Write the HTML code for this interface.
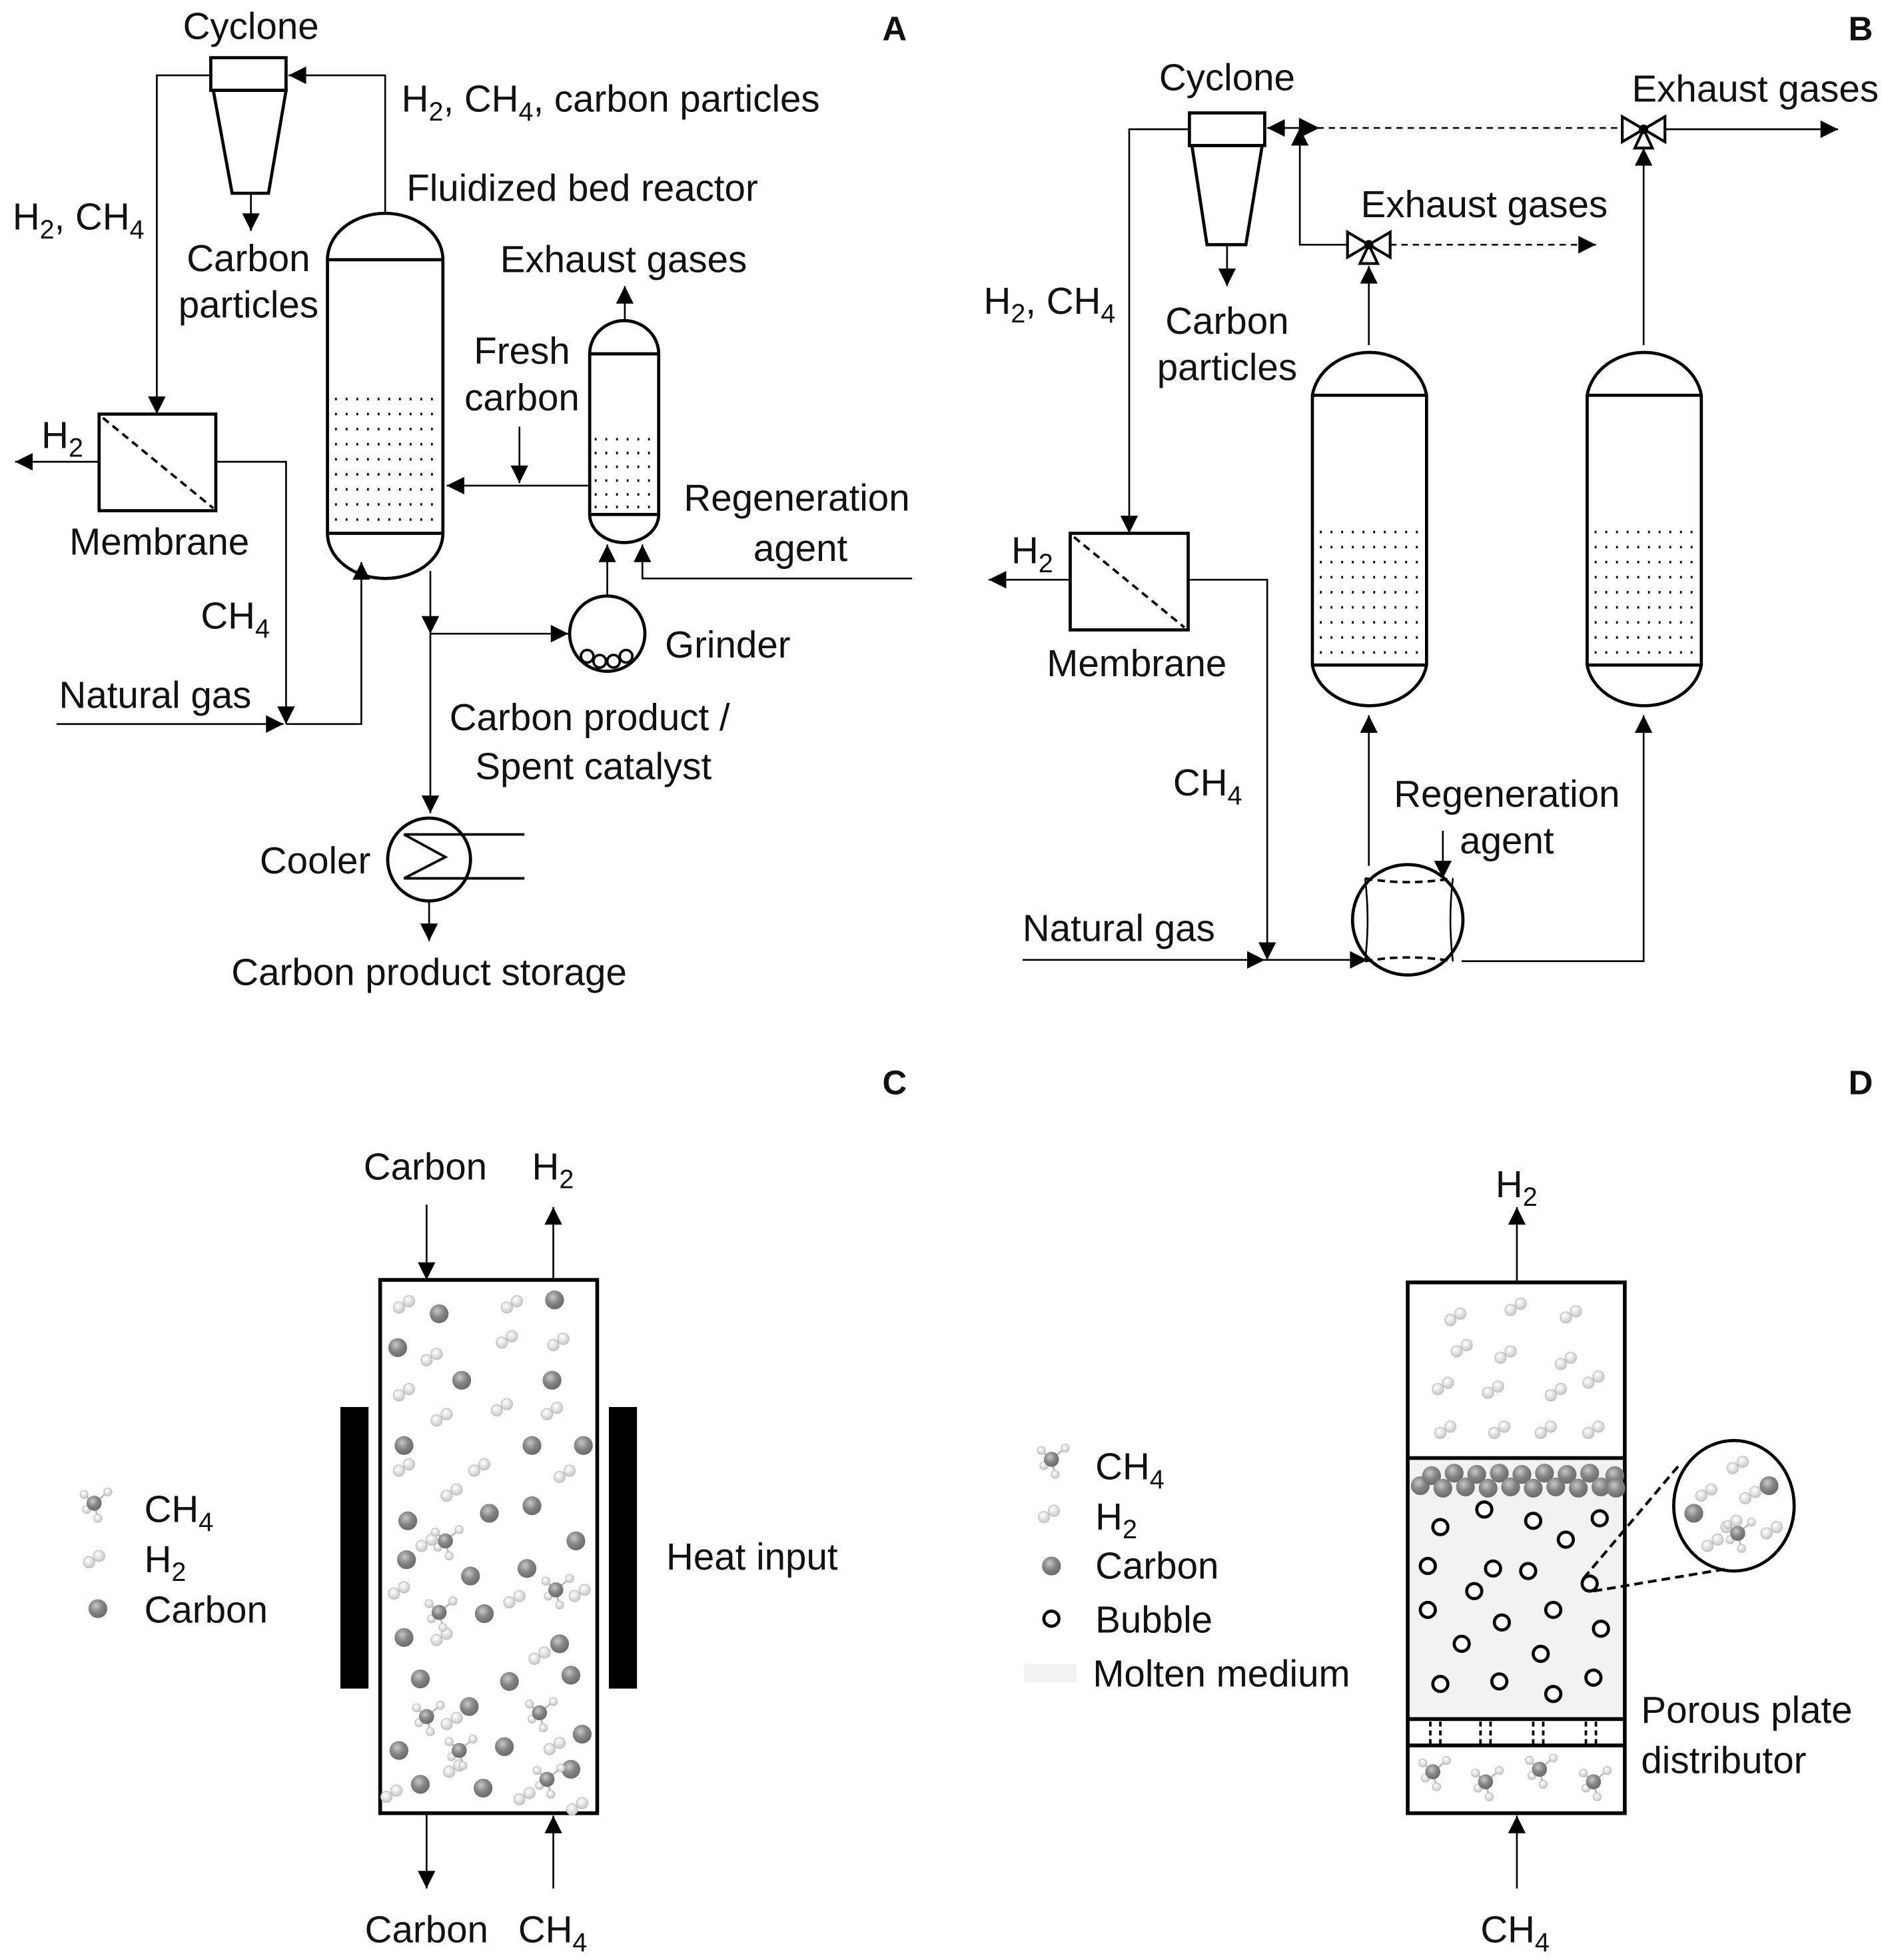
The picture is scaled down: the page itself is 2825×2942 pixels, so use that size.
<!DOCTYPE html>
<html><head><meta charset="utf-8"><style>
html,body{margin:0;padding:0;background:#fff}
svg{display:block}
text{font-family:"Liberation Sans",Arial,sans-serif;font-size:30px;fill:#111}
.b{font-weight:bold;font-size:27px}
</style></head><body>
<svg width="2825" height="2942" viewBox="0 0 1500 1562" preserveAspectRatio="none" xmlns="http://www.w3.org/2000/svg">
<defs>
<marker id="a" viewBox="0 0 10 10" refX="10" refY="5" markerWidth="16" markerHeight="14" markerUnits="userSpaceOnUse" orient="auto"><path d="M0,0L10,5L0,10z" fill="#000"/></marker>
<radialGradient id="cg" cx="0.4" cy="0.35" r="0.7"><stop offset="0" stop-color="#c8c8c8"/><stop offset="0.5" stop-color="#858585"/><stop offset="1" stop-color="#666"/></radialGradient>
<radialGradient id="hg" cx="0.4" cy="0.35" r="0.7"><stop offset="0" stop-color="#fff"/><stop offset="1" stop-color="#c4c4c4"/></radialGradient>
<symbol id="C" overflow="visible"><circle cx="0" cy="0" r="7.5" fill="url(#cg)"/></symbol>
<symbol id="H" overflow="visible"><circle cx="-4" cy="2" r="4.5" fill="url(#hg)" stroke="#bbb" stroke-width="0.6"/><circle cx="4" cy="-3" r="4.5" fill="url(#hg)" stroke="#bbb" stroke-width="0.6"/></symbol>
<symbol id="M" overflow="visible"><path d="M0,0L-8,-7M0,0L11,-9M0,0L-6,5M0,0L3,12" stroke="#bbb" stroke-width="1.5"/><circle cx="-8" cy="-7" r="3.2" fill="url(#hg)" stroke="#bbb" stroke-width="0.6"/><circle cx="11" cy="-9" r="3.2" fill="url(#hg)" stroke="#bbb" stroke-width="0.6"/><circle cx="-6" cy="5" r="3.2" fill="url(#hg)" stroke="#bbb" stroke-width="0.6"/><circle cx="3" cy="12" r="3.2" fill="url(#hg)" stroke="#bbb" stroke-width="0.6"/><circle cx="0" cy="0" r="6" fill="url(#cg)"/></symbol>
</defs>
<g fill="none" stroke="#000" stroke-width="1.4">
<!-- Panel A -->
<text x="713" y="32" class="b" stroke="none" text-anchor="middle">A</text>
<rect x="168" y="46" width="60" height="26" stroke-width="2.5"/>
<path d="M170,72 L228,72 L214,154 L185,154 Z" stroke-width="2.5"/>
<path d="M200,154 V184" marker-end="url(#a)"/>
<path d="M307,170 V60 H230" marker-end="url(#a)"/>
<path d="M168,60 H125 V330" marker-end="url(#a)"/>
<rect x="79" y="330" width="93" height="77" stroke-width="2.5"/>
<path d="M82,333 L170,405" stroke-dasharray="6,4" stroke-width="2"/>
<path d="M79,368 H12" marker-end="url(#a)"/>
<path d="M172,368 H228 V577" marker-end="url(#a)"/>
<path d="M45,577 H226" marker-end="url(#a)"/>
<path d="M228,577 H288 V448" marker-end="url(#a)"/>
<path d="M261,207 V425 A46,36 0 0 0 353,425 V207 A46,37 0 0 0 261,207 Z M261,207 H353 M261,425 H353" stroke-width="2.5"/>
<path d="M267,318 H350 M267,330 H350 M267,342 H350 M267,354 H350 M267,366 H350 M267,378 H350 M267,390 H350 M267,402 H350 M267,414 H350" stroke-dasharray="1.5,7" stroke-width="2"/>
<path d="M343,455 V505" marker-end="url(#a)"/>
<path d="M343,505 H453" marker-end="url(#a)"/>
<path d="M343,505 V648" marker-end="url(#a)"/>
<circle cx="342" cy="685" r="33" stroke-width="2.5"/>
<path d="M360,665 H418 M360,700 H418 M368,665 L322,665 L355,683 L322,700 L368,700" stroke-width="2"/>
<path d="M342,718 V750" marker-end="url(#a)"/>
<circle cx="484" cy="505" r="30" stroke-width="2.5"/>
<g stroke-width="2"><circle cx="468" cy="523" r="5"/><circle cx="478" cy="527" r="5"/><circle cx="489" cy="527" r="5"/><circle cx="499" cy="523" r="5"/></g>
<path d="M484,475 V434" marker-end="url(#a)"/>
<path d="M470,282 V410 A27,22 0 0 0 525,410 V282 A27,26 0 0 0 470,282 Z M470,282 H525 M470,410 H525" stroke-width="2.5"/>
<path d="M474,350 H522 M474,361 H522 M474,372 H522 M474,383 H522 M474,394 H522 M474,404 H522" stroke-dasharray="1.5,7" stroke-width="2"/>
<path d="M498,256 V228" marker-end="url(#a)"/>
<path d="M470,387 H356" marker-end="url(#a)"/>
<path d="M414,340 V385" marker-end="url(#a)"/>
<path d="M727,461 H512 V434" marker-end="url(#a)"/>
<!-- Panel B -->
<text x="1483" y="32" class="b" stroke="none" text-anchor="middle">B</text>
<rect x="948" y="90" width="60" height="26" stroke-width="2.5"/>
<path d="M950,116 L1006,116 L993,195 L962,195 Z" stroke-width="2.5"/>
<path d="M978,195 V228" marker-end="url(#a)"/>
<path d="M948,103 H900 V425" marker-end="url(#a)"/>
<rect x="853" y="425" width="94" height="77" stroke-width="2.5"/>
<path d="M856,428 L944,500" stroke-dasharray="6,4" stroke-width="2"/>
<path d="M853,462 H788" marker-end="url(#a)"/>
<path d="M947,462 H1010 V765" marker-end="url(#a)"/>
<path d="M815,765 H1008" marker-end="url(#a)"/>
<path d="M1008,765 H1090" marker-end="url(#a)"/>
<circle cx="1122" cy="733" r="44" stroke-width="2.5"/>
<path d="M1088,700 Q1122,706 1158,700 M1088,766 Q1122,760 1158,766" stroke-dasharray="6,4" stroke-width="2"/>
<path d="M1088,700 Q1092,733 1088,766 M1158,700 Q1154,733 1158,766"/>
<path d="M1150,662 V700" marker-end="url(#a)"/>
<path d="M1091,690 V570" marker-end="url(#a)"/>
<path d="M1165,766 H1310 V570" marker-end="url(#a)"/>
<path d="M1046,315 V530 A46,38 0 0 0 1137,530 V315 A46,40 0 0 0 1046,315 Z M1046,315 H1137 M1046,530 H1137" stroke-width="2.5"/>
<path d="M1265,315 V530 A46,38 0 0 0 1356,530 V315 A46,40 0 0 0 1265,315 Z M1265,315 H1356 M1265,530 H1356" stroke-width="2.5"/>
<path d="M1052,424 H1134 M1052,436 H1134 M1052,448 H1134 M1052,460 H1134 M1052,472 H1134 M1052,484 H1134 M1052,496 H1134 M1052,508 H1134 M1052,520 H1134" stroke-dasharray="1.5,7" stroke-width="2"/>
<path d="M1271,424 H1353 M1271,436 H1353 M1271,448 H1353 M1271,460 H1353 M1271,472 H1353 M1271,484 H1353 M1271,496 H1353 M1271,508 H1353 M1271,520 H1353" stroke-dasharray="1.5,7" stroke-width="2"/>
<path d="M1091,275 V212" marker-end="url(#a)"/>
<path d="M1074,185 L1108,205 L1108,185 L1074,205 Z M1091,195 L1084,210 L1098,210 Z" stroke-width="2.2" fill="#fff"/>
<circle cx="1091" cy="195" r="3" fill="#000"/>
<path d="M1074,195 H1036 V102" marker-end="url(#a)"/>
<path d="M1036,102 H1010" marker-end="url(#a)"/>
<path d="M1050,102 H1293" stroke-dasharray="5,4"/>
<path d="M1050,102 L1036,95 L1036,109 Z" fill="#000"/>
<path d="M1108,195 H1272" stroke-dasharray="5,4" marker-end="url(#a)"/>
<path d="M1310,275 V118" marker-end="url(#a)"/>
<path d="M1293,93 L1327,113 L1327,93 L1293,113 Z M1310,103 L1303,118 L1317,118 Z" stroke-width="2.2" fill="#fff"/>
<circle cx="1310" cy="103" r="3" fill="#000"/>
<path d="M1327,103 H1465" marker-end="url(#a)"/>
<!-- Panel C -->
<text x="713" y="872" class="b" stroke="none" text-anchor="middle">C</text>
<rect x="303" y="1020" width="173" height="425" stroke-width="3"/>
<rect x="272" y="1122" width="21" height="223" fill="#000"/>
<rect x="486" y="1122" width="21" height="223" fill="#000"/>
<path d="M340,960 V1020" marker-end="url(#a)"/>
<path d="M441,1020 V962" marker-end="url(#a)"/>
<path d="M340,1445 V1505" marker-end="url(#a)"/>
<path d="M441,1505 V1447" marker-end="url(#a)"/>
<!-- Panel D -->
<text x="1483" y="872" class="b" stroke="none" text-anchor="middle">D</text>
<rect x="1123" y="1164" width="172" height="206" fill="#f2f2f2" stroke="none"/>
<rect x="816" y="1326" width="42" height="15" fill="#f2f2f2" stroke="none"/>
<rect x="1122" y="1022" width="173" height="423" stroke-width="3"/>
<path d="M1122,1162 H1295 M1122,1370 H1295 M1122,1391 H1295" stroke-width="3"/>
<path d="M1140,1372 V1390 M1148,1372 V1390 M1180,1372 V1390 M1188,1372 V1390 M1222,1372 V1390 M1230,1372 V1390 M1264,1372 V1390 M1272,1372 V1390" stroke-dasharray="4,3" stroke-width="2"/>
<path d="M1209,1022 V962" marker-end="url(#a)"/>
<path d="M1209,1505 V1447" marker-end="url(#a)"/>
<ellipse cx="1382" cy="1200" rx="48" ry="52" stroke-width="2.5"/>
<path d="M1262,1258 L1338,1168 M1270,1268 L1378,1250" stroke-dasharray="7,4" stroke-width="2.2"/>
<g stroke-width="2.5" fill="#fff">
<circle cx="1148" cy="1217" r="6"/><circle cx="1183" cy="1203" r="6"/><circle cx="1222" cy="1212" r="6"/><circle cx="1275" cy="1210" r="6"/><circle cx="1248" cy="1227" r="6"/><circle cx="1190" cy="1250" r="6"/><circle cx="1138" cy="1248" r="6"/><circle cx="1218" cy="1252" r="6"/><circle cx="1267" cy="1262" r="6"/><circle cx="1175" cy="1268" r="6"/><circle cx="1138" cy="1283" r="6"/><circle cx="1238" cy="1283" r="6"/><circle cx="1197" cy="1293" r="6"/><circle cx="1276" cy="1298" r="6"/><circle cx="1165" cy="1310" r="6"/><circle cx="1228" cy="1318" r="6"/><circle cx="1148" cy="1342" r="6"/><circle cx="1195" cy="1340" r="6"/><circle cx="1238" cy="1350" r="6"/><circle cx="1270" cy="1337" r="6"/>
<circle cx="838" cy="1290" r="6"/>
</g>
</g>
<!-- particles C -->
<g>
<use href="#C" x="350" y="1047"/><use href="#C" x="442" y="1036"/><use href="#C" x="317" y="1074"/><use href="#C" x="368" y="1100"/><use href="#C" x="440" y="1100"/><use href="#C" x="322" y="1152"/><use href="#C" x="424" y="1152"/><use href="#C" x="465" y="1152"/><use href="#C" x="390" y="1206"/><use href="#C" x="424" y="1200"/><use href="#C" x="325" y="1212"/><use href="#C" x="324" y="1243"/><use href="#C" x="375" y="1256"/><use href="#C" x="459" y="1228"/><use href="#C" x="386" y="1286"/><use href="#C" x="322" y="1305"/><use href="#C" x="446" y="1310"/><use href="#C" x="335" y="1338"/><use href="#C" x="406" y="1340"/><use href="#C" x="455" y="1335"/><use href="#C" x="374" y="1360"/><use href="#C" x="318" y="1395"/><use href="#C" x="402" y="1392"/><use href="#C" x="464" y="1382"/><use href="#C" x="335" y="1422"/><use href="#C" x="385" y="1425"/><use href="#C" x="455" y="1410"/><use href="#C" x="420" y="1250"/>
<use href="#H" x="322" y="1040"/><use href="#H" x="408" y="1040"/><use href="#H" x="404" y="1068"/><use href="#H" x="344" y="1082"/><use href="#H" x="445" y="1070"/><use href="#H" x="322" y="1110"/><use href="#H" x="400" y="1122"/><use href="#H" x="440" y="1125"/><use href="#H" x="322" y="1170"/><use href="#H" x="352" y="1130"/><use href="#H" x="382" y="1170"/><use href="#H" x="450" y="1175"/><use href="#H" x="360" y="1190"/><use href="#H" x="340" y="1230"/><use href="#H" x="318" y="1268"/><use href="#H" x="410" y="1275"/><use href="#H" x="352" y="1305"/><use href="#H" x="430" y="1320"/><use href="#H" x="462" y="1270"/><use href="#H" x="360" y="1372"/><use href="#H" x="442" y="1392"/><use href="#H" x="312" y="1430"/><use href="#H" x="418" y="1432"/><use href="#H" x="362" y="1410"/><use href="#H" x="460" y="1440"/>
<use href="#M" x="355" y="1228"/><use href="#M" x="443" y="1267"/><use href="#M" x="350" y="1285"/><use href="#M" x="430" y="1365"/><use href="#M" x="340" y="1368"/><use href="#M" x="366" y="1395"/><use href="#M" x="436" y="1418"/>
</g>
<!-- particles D -->
<g>
<use href="#H" x="1160" y="1050"/><use href="#H" x="1208" y="1042"/><use href="#H" x="1252" y="1048"/><use href="#H" x="1165" y="1075"/><use href="#H" x="1200" y="1080"/><use href="#H" x="1248" y="1085"/><use href="#H" x="1150" y="1105"/><use href="#H" x="1190" y="1108"/><use href="#H" x="1240" y="1110"/><use href="#H" x="1270" y="1100"/><use href="#H" x="1152" y="1140"/><use href="#H" x="1195" y="1140"/><use href="#H" x="1232" y="1140"/><use href="#H" x="1270" y="1140"/>
<use href="#C" x="1132" y="1184"/><use href="#C" x="1141" y="1176"/><use href="#C" x="1150" y="1186"/><use href="#C" x="1159" y="1174"/><use href="#C" x="1168" y="1185"/><use href="#C" x="1177" y="1175"/><use href="#C" x="1186" y="1186"/><use href="#C" x="1195" y="1174"/><use href="#C" x="1204" y="1185"/><use href="#C" x="1213" y="1175"/><use href="#C" x="1222" y="1186"/><use href="#C" x="1231" y="1174"/><use href="#C" x="1240" y="1185"/><use href="#C" x="1249" y="1175"/><use href="#C" x="1258" y="1186"/><use href="#C" x="1267" y="1174"/><use href="#C" x="1276" y="1185"/><use href="#C" x="1287" y="1176"/><use href="#C" x="1288" y="1186"/>
<use href="#M" x="1142" y="1412"/><use href="#M" x="1184" y="1420"/><use href="#M" x="1227" y="1410"/><use href="#M" x="1270" y="1420"/>
<use href="#H" x="1385" y="1168"/><use href="#H" x="1360" y="1190"/><use href="#H" x="1395" y="1192"/><use href="#H" x="1380" y="1215"/><use href="#H" x="1412" y="1220"/><use href="#H" x="1365" y="1230"/><use href="#C" x="1410" y="1184"/><use href="#C" x="1350" y="1206"/><use href="#M" x="1385" y="1222"/>
<use href="#M" x="838" y="1163"/><use href="#H" x="836" y="1207"/><use href="#C" x="838" y="1248"/>
<use href="#M" x="75" y="1198"/><use href="#H" x="75" y="1243"/><use href="#C" x="78" y="1282"/>
</g>
<!-- Text -->
<g>
<text x="200" y="31" text-anchor="middle">Cyclone</text>
<text x="320" y="89">H<tspan font-size="21" dy="7">2</tspan><tspan dy="-7">, CH</tspan><tspan font-size="21" dy="7">4</tspan><tspan dy="-7">, carbon particles</tspan></text>
<text x="324" y="160">Fluidized bed reactor</text>
<text x="10" y="183">H<tspan font-size="21" dy="7">2</tspan><tspan dy="-7">, CH</tspan><tspan font-size="21" dy="7">4</tspan></text>
<text x="198" y="216" text-anchor="middle">Carbon</text>
<text x="198" y="253" text-anchor="middle">particles</text>
<text x="497" y="217" text-anchor="middle">Exhaust gases</text>
<text x="416" y="290" text-anchor="middle">Fresh</text>
<text x="416" y="327" text-anchor="middle">carbon</text>
<text x="33" y="357">H<tspan font-size="21" dy="7">2</tspan></text>
<text x="545" y="407">Regeneration</text>
<text x="638" y="447" text-anchor="middle">agent</text>
<text x="127" y="442" text-anchor="middle">Membrane</text>
<text x="160" y="501">CH<tspan font-size="21" dy="7">4</tspan></text>
<text x="530" y="524">Grinder</text>
<text x="47" y="564">Natural gas</text>
<text x="470" y="582" text-anchor="middle">Carbon product /</text>
<text x="473" y="621" text-anchor="middle">Spent catalyst</text>
<text x="207" y="696">Cooler</text>
<text x="342" y="785" text-anchor="middle">Carbon product storage</text>

<text x="978" y="72" text-anchor="middle">Cyclone</text>
<text x="1399" y="81" text-anchor="middle">Exhaust gases</text>
<text x="1183" y="173" text-anchor="middle">Exhaust gases</text>
<text x="784" y="250">H<tspan font-size="21" dy="7">2</tspan><tspan dy="-7">, CH</tspan><tspan font-size="21" dy="7">4</tspan></text>
<text x="978" y="266" text-anchor="middle">Carbon</text>
<text x="978" y="303" text-anchor="middle">particles</text>
<text x="806" y="449">H<tspan font-size="21" dy="7">2</tspan></text>
<text x="906" y="539" text-anchor="middle">Membrane</text>
<text x="935" y="634">CH<tspan font-size="21" dy="7">4</tspan></text>
<text x="1201" y="643" text-anchor="middle">Regeneration</text>
<text x="1201" y="680" text-anchor="middle">agent</text>
<text x="815" y="750">Natural gas</text>

<text x="339" y="940" text-anchor="middle">Carbon</text>
<text x="424" y="940">H<tspan font-size="21" dy="7">2</tspan></text>
<text x="115" y="1213">CH<tspan font-size="21" dy="7">4</tspan></text>
<text x="115" y="1253">H<tspan font-size="21" dy="7">2</tspan></text>
<text x="115" y="1293">Carbon</text>
<text x="531" y="1251">Heat input</text>
<text x="340" y="1548" text-anchor="middle">Carbon</text>
<text x="413" y="1548">CH<tspan font-size="21" dy="7">4</tspan></text>

<text x="1192" y="954">H<tspan font-size="21" dy="7">2</tspan></text>
<text x="873" y="1179">CH<tspan font-size="21" dy="7">4</tspan></text>
<text x="873" y="1219">H<tspan font-size="21" dy="7">2</tspan></text>
<text x="873" y="1258">Carbon</text>
<text x="873" y="1301">Bubble</text>
<text x="871" y="1344">Molten medium</text>
<text x="1308" y="1373">Porous plate</text>
<text x="1308" y="1413">distributor</text>
<text x="1180" y="1548">CH<tspan font-size="21" dy="7">4</tspan></text>
</g>
</svg>
</body></html>
